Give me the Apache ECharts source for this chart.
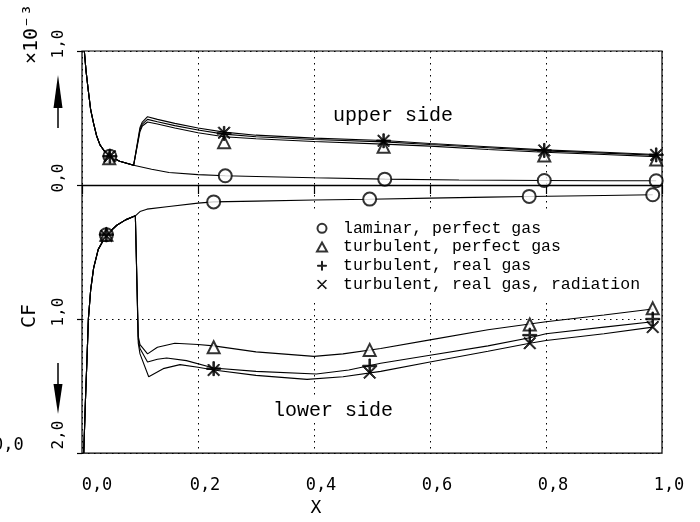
<!DOCTYPE html>
<html><head><meta charset="utf-8">
<script src="https://cdn.jsdelivr.net/npm/echarts@6/dist/echarts.min.js"></script>
<style>html,body{margin:0;padding:0;background:#fff}#c{width:700px;height:522px}</style>
</head><body><div id="c"></div>
<script>
// ---- data (x = X, y = CF * 1e3; upper side positive, lower side negative) ----
const seriesNames = ['laminar, perfect gas', 'turbulent, perfect gas', 'turbulent, real gas', 'turbulent, real gas, radiation'];
const xTicks = [0, 0.2, 0.4, 0.6, 0.8, 1.0];
const xTickLabels = ['0,0', '0,2', '0,4', '0,6', '0,8', '1,0'];
const yTicks = [-2, -1, 0, 1];
const yTickLabels = ['2,0', '1,0', '0,0', '1,0'];

// upper side, common leading-edge part
const upperLead = [[0.004,1.0],[0.007,0.85],[0.011,0.70],[0.015,0.56],[0.02,0.46],[0.025,0.37],[0.031,0.30],[0.04,0.245],[0.05,0.21],[0.065,0.178],[0.089,0.147]];
const upperLamTail = [[0.12,0.118],[0.15,0.094],[0.2,0.078],[0.247,0.069],[0.3,0.064],[0.4,0.054],[0.522,0.044],[0.65,0.038],[0.797,0.034],[0.9,0.032],[0.99,0.032]];
const upperPerfTail = [[0.1,0.40],[0.104,0.44],[0.113,0.47],[0.13,0.455],[0.16,0.425],[0.2,0.39],[0.245,0.36],[0.3,0.345],[0.4,0.325],[0.52,0.305],[0.6,0.29],[0.7,0.265],[0.797,0.245],[0.9,0.228],[0.99,0.212]];
const upperRealTail = [[0.1,0.415],[0.104,0.455],[0.113,0.49],[0.13,0.472],[0.16,0.443],[0.2,0.41],[0.245,0.38],[0.3,0.36],[0.4,0.34],[0.52,0.322],[0.6,0.302],[0.7,0.278],[0.797,0.255],[0.9,0.238],[0.99,0.222]];
const upperRadTail = [[0.1,0.43],[0.104,0.47],[0.113,0.51],[0.13,0.49],[0.16,0.46],[0.2,0.425],[0.245,0.395],[0.3,0.372],[0.4,0.35],[0.52,0.332],[0.6,0.31],[0.7,0.286],[0.797,0.262],[0.9,0.245],[0.99,0.228]];

// lower side, common leading-edge part
const lowerLead = [[0.003,-2.0],[0.006,-1.6],[0.009,-1.25],[0.011,-1.0],[0.015,-0.78],[0.02,-0.62],[0.028,-0.48],[0.037,-0.41],[0.045,-0.36],[0.06,-0.30],[0.075,-0.26],[0.092,-0.23]];
const lowerLamTail = [[0.1,-0.198],[0.112,-0.18],[0.15,-0.16],[0.2,-0.135],[0.227,-0.126],[0.3,-0.12],[0.4,-0.112],[0.496,-0.106],[0.6,-0.098],[0.7,-0.09],[0.771,-0.085],[0.9,-0.078],[0.984,-0.073]];
const lowerPerfTail = [[0.097,-1.13],[0.1,-1.19],[0.113,-1.26],[0.13,-1.21],[0.16,-1.18],[0.2,-1.19],[0.227,-1.2],[0.3,-1.245],[0.4,-1.278],[0.45,-1.26],[0.515,-1.22],[0.6,-1.155],[0.7,-1.08],[0.8,-1.02],[0.9,-0.97],[0.984,-0.925]];
const lowerRealTail = [[0.097,-1.15],[0.1,-1.22],[0.113,-1.32],[0.13,-1.3],[0.146,-1.29],[0.18,-1.31],[0.227,-1.365],[0.3,-1.39],[0.404,-1.41],[0.46,-1.38],[0.515,-1.33],[0.6,-1.27],[0.7,-1.2],[0.772,-1.14],[0.8,-1.11],[0.9,-1.06],[0.984,-1.02]];
const lowerRadTail = [[0.097,-1.18],[0.1,-1.26],[0.115,-1.43],[0.14,-1.37],[0.169,-1.34],[0.2,-1.36],[0.227,-1.38],[0.3,-1.42],[0.388,-1.45],[0.45,-1.43],[0.515,-1.39],[0.6,-1.32],[0.7,-1.24],[0.772,-1.18],[0.8,-1.16],[0.9,-1.11],[0.984,-1.06]];

// plotted symbols
const markLam  = [[0.048,0.215],[0.247,0.069],[0.522,0.044],[0.797,0.034],[0.99,0.032],[0.042,-0.37],[0.227,-0.126],[0.496,-0.105],[0.771,-0.085],[0.984,-0.073]];
const markPerf = [[0.047,0.2],[0.245,0.32],[0.52,0.285],[0.797,0.22],[0.99,0.19],[0.042,-0.37],[0.227,-1.21],[0.496,-1.23],[0.772,-1.04],[0.984,-0.92]];
const markReal = [[0.048,0.215],[0.245,0.385],[0.52,0.33],[0.797,0.258],[0.99,0.225],[0.042,-0.37],[0.227,-1.37],[0.496,-1.35],[0.772,-1.12],[0.984,-1.0]];
const markRad  = [[0.048,0.215],[0.245,0.39],[0.52,0.33],[0.797,0.258],[0.99,0.225],[0.042,-0.38],[0.227,-1.38],[0.496,-1.40],[0.772,-1.18],[0.984,-1.06]];

// ---- chart ----
const MONO = 'DejaVu Sans Mono';
const TYPE = 'Liberation Mono';
const plusPath = 'path://M4.45,0L5.55,0L5.55,4.45L10,4.45L10,5.55L5.55,5.55L5.55,10L4.45,10L4.45,5.55L0,5.55L0,4.45L4.45,4.45Z';
const crossPath = 'path://M0,0.75L0.75,0L5,4.25L9.25,0L10,0.75L5.75,5L10,9.25L9.25,10L5,5.75L0.75,10L0,9.25L4.25,5Z';

function lineSeries(name, data) {
  return { name: name, type: 'line', data: data, showSymbol: false, symbol: 'none', clip: true, z: 2,
    lineStyle: { color: '#000', width: 1.1 }, itemStyle: { color: '#000' }, silent: true, animation: false };
}
function markSeries(name, data, symbol, size) {
  return { name: name, type: 'scatter', data: data, symbol: symbol, symbolSize: size, z: 3,
    itemStyle: { color: '#000', borderColor: '#000', borderWidth: 1 }, silent: true, animation: false };
}

const chart = echarts.init(document.getElementById('c'), null, { renderer: 'canvas' });
chart.setOption({
  animation: false,
  backgroundColor: '#fff',
  grid: { left: 82, right: 38, top: 51, bottom: 62, show: true, borderColor: '#000', borderWidth: 1.2, backgroundColor: 'transparent' },
  xAxis: {
    type: 'value', min: 0, max: 1, interval: 0.2,
    name: 'X', nameLocation: 'middle', nameGap: 41,
    nameTextStyle: { fontFamily: MONO, fontSize: 18, color: '#000', padding: [0, 112, 0, 0] },
    axisLine: { show: false },
    axisTick: { show: true, inside: false, length: 9, lineStyle: { color: '#000', width: 1.2 } },
    axisLabel: {
      margin: 24, color: '#000', fontFamily: MONO, fontSize: 17,
      formatter: function (v) {
        const i = xTicks.findIndex(t => Math.abs(t - v) < 1e-6);
        const s = i >= 0 ? xTickLabels[i] : '';
        return (i === 0 ? '{f|' : '{n|') + s + '}';
      },
      rich: { n: { fontFamily: MONO, fontSize: 17, color: '#000', padding: [0, 0, 0, 14] },
              f: { fontFamily: MONO, fontSize: 17, color: '#000', padding: [0, 0, 0, 30] } }
    },
    splitLine: { show: true, lineStyle: { color: '#000', type: [1.5, 4.5], width: 1 } }
  },
  yAxis: {
    type: 'value', min: -2, max: 1, interval: 1,
    axisLine: { show: false },
    axisTick: { show: true, inside: false, length: 5, lineStyle: { color: '#000', width: 1.2 } },
    axisLabel: {
      rotate: 90, margin: 15, color: '#000', fontFamily: MONO, fontSize: 16,
      formatter: function (v) {
        const i = yTicks.findIndex(t => Math.abs(t - v) < 1e-6);
        const s = i >= 0 ? yTickLabels[i] : '';
        return (i === 0 ? '{m|' : '{n|') + s + '}';
      },
      rich: { n: { fontFamily: MONO, fontSize: 16, color: '#000', padding: [0, 0, 0, 14] },
              m: { fontFamily: MONO, fontSize: 16, color: '#000', padding: [0, 0, 0, 36] } }
    },
    splitLine: { show: true, lineStyle: { color: '#000', type: [1.5, 4.5], width: 1 } }
  },
  legend: {
    data: seriesNames, orient: 'vertical', left: 312, top: 212, padding: [7, 10, 8, 4],
    itemGap: 0, itemWidth: 10, itemHeight: 9, backgroundColor: '#fff', selectedMode: false,
    itemStyle: { borderWidth: 1 },
    textStyle: { fontFamily: TYPE, fontSize: 16.5, color: '#000', lineHeight: 18.7, padding: [0, 0, 0, 11] }
  },
  graphic: [
    { type: 'text', left: 331, top: 104, z: 10, style: { text: 'upper side', font: '20px "Liberation Mono"', fill: '#000', backgroundColor: '#fff', padding: [2, 2] } },
    { type: 'text', left: 271, top: 399, z: 10, style: { text: 'lower side', font: '20px "Liberation Mono"', fill: '#000', backgroundColor: '#fff', padding: [2, 2] } },
    { type: 'text', x: 30, y: 316, rotation: Math.PI / 2, z: 10, style: { text: 'CF', font: '20px "DejaVu Sans Mono"', fill: '#000', align: 'center', verticalAlign: 'middle' } },
    { type: 'text', x: 32, y: 34, rotation: Math.PI / 2, z: 10, style: { text: '×10⁻³', font: '20px "DejaVu Sans Mono"', fill: '#000', align: 'center', verticalAlign: 'middle' } },
    { type: 'text', x: -7, y: 446, z: 10, style: { text: '0,0', font: '17px "DejaVu Sans Mono"', fill: '#000', align: 'left', verticalAlign: 'middle' } },
    { type: 'line', z: 10, shape: { x1: 58, y1: 128, x2: 58, y2: 100 }, style: { stroke: '#000', lineWidth: 1.5 } },
    { type: 'polygon', z: 10, shape: { points: [[53.5, 108], [62.5, 108], [58, 75]] }, style: { fill: '#000' } },
    { type: 'line', z: 10, shape: { x1: 58, y1: 363, x2: 58, y2: 390 }, style: { stroke: '#000', lineWidth: 1.5 } },
    { type: 'polygon', z: 10, shape: { points: [[53.5, 384], [62.5, 384], [58, 414]] }, style: { fill: '#000' } }
  ],
  series: [
    markSeries(seriesNames[0], markLam, 'emptyCircle', 13),
    markSeries(seriesNames[1], markPerf, 'emptyTriangle', 12),
    markSeries(seriesNames[2], markReal, plusPath, 14),
    markSeries(seriesNames[3], markRad, crossPath, 12),
    Object.assign(lineSeries(seriesNames[0], upperLead.concat(upperLamTail)), {
      markLine: { silent: true, symbol: 'none', label: { show: false }, animation: false,
        lineStyle: { color: '#000', type: 'solid', width: 1.4 }, data: [{ yAxis: 0 }] }
    }),
    lineSeries(seriesNames[1], upperLead.concat(upperPerfTail)),
    lineSeries(seriesNames[2], upperLead.concat(upperRealTail)),
    lineSeries(seriesNames[3], upperLead.concat(upperRadTail)),
    lineSeries(seriesNames[0], lowerLead.concat(lowerLamTail)),
    lineSeries(seriesNames[1], lowerLead.concat(lowerPerfTail)),
    lineSeries(seriesNames[2], lowerLead.concat(lowerRealTail)),
    lineSeries(seriesNames[3], lowerLead.concat(lowerRadTail))
  ]
});
</script></body></html>
